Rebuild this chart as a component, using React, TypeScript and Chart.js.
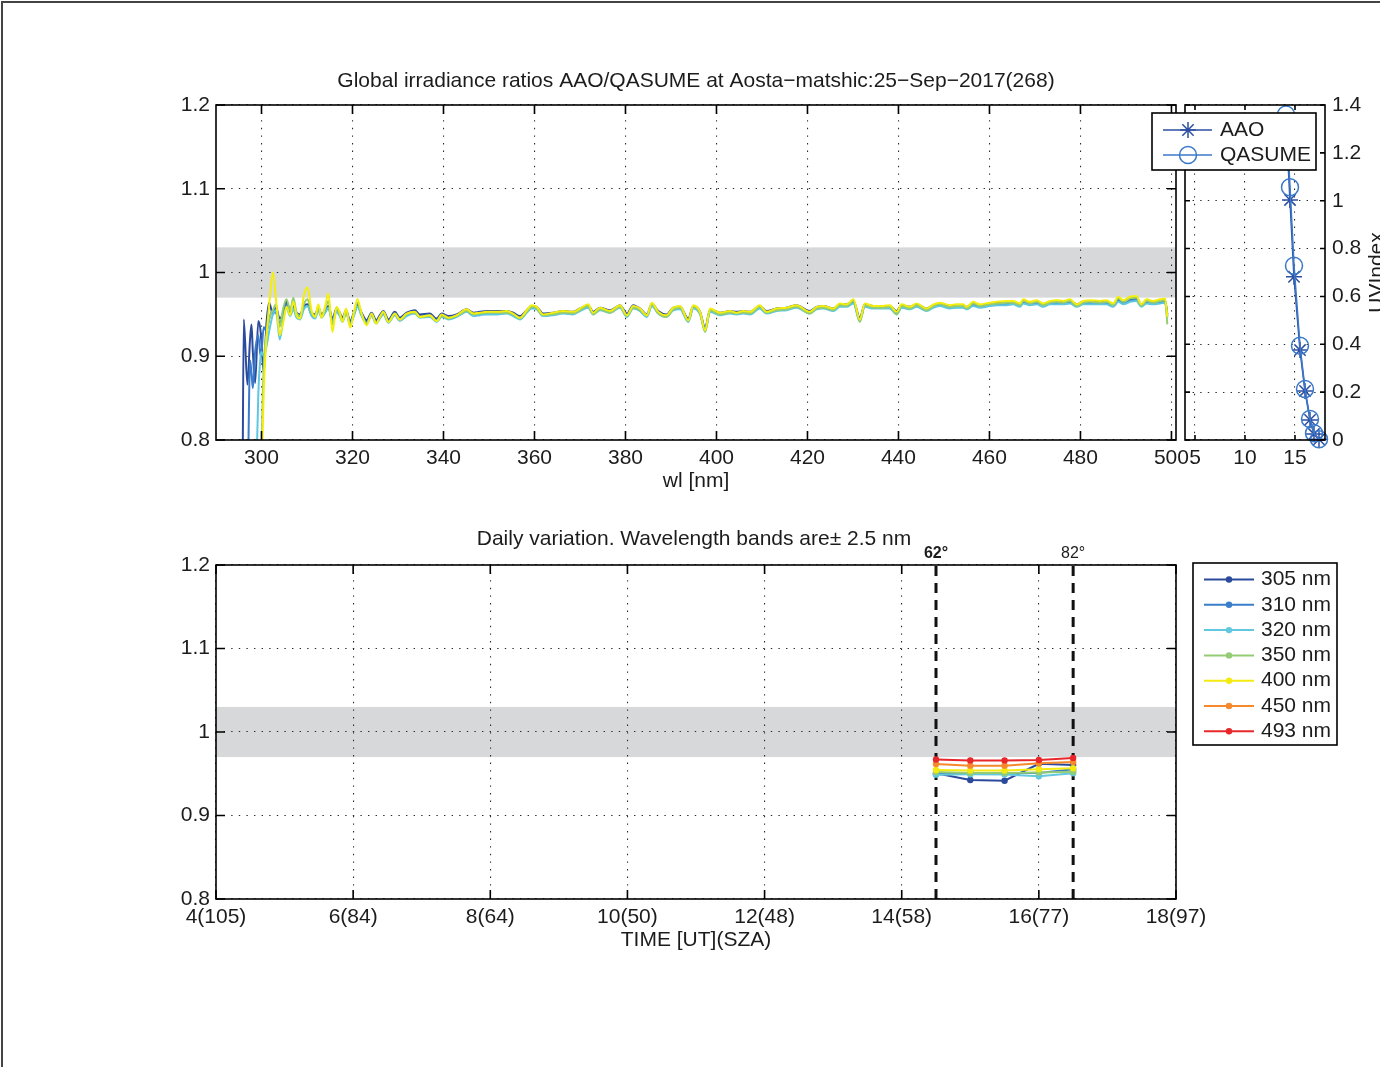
import React, { useEffect, useRef } from "react";
import { Chart, registerables } from "chart.js";

Chart.register(...registerables);

const FONT = '"Liberation Sans", Arial, Helvetica, sans-serif';
const INK = "#1c1c1c";
const W = 1380;
const H = 1067;
const FS = 21;

// ---------------- Top-left: spectral ratios ----------------
const wavelengths = [
  295.8, 296.1, 296.9, 297.5, 297.8, 298.1, 298.6, 299.3, 299.8, 300.0,
  300.5, 301.1, 301.7, 302.5, 303.2, 304.0, 304.8, 305.5, 306.3, 307.0,
  307.7, 308.5, 309.3, 310.1, 311.0, 311.8, 312.5, 313.2, 314.0, 314.7,
  315.6, 316.5, 317.2, 317.8, 318.6, 319.5, 320.3, 321.1, 322.0, 323.1,
  324.2, 325.2, 326.0, 326.8, 327.9, 329.3, 330.4, 331.9, 333.7, 334.8,
  337.0, 338.5, 339.6, 341.1, 342.9, 345.1, 346.6, 348.0, 349.5, 351.7,
  353.9, 355.3, 356.8, 358.3, 359.4, 360.5, 361.9, 364.1, 366.3, 368.5,
  370.0, 371.8, 372.9, 374.4, 376.6, 378.8, 380.3, 381.7, 383.2, 384.7,
  385.8, 387.2, 389.0, 390.5, 392.0, 393.8, 394.9, 396.4, 397.5, 398.6,
  400.8, 403.0, 404.4, 405.9, 407.4, 409.5, 411.0, 413.2, 415.4, 417.6,
  420.5, 422.0, 423.5, 425.7, 427.1, 428.6, 430.1, 431.5, 432.6, 434.5,
  436.7, 438.1, 439.6, 440.7, 442.5, 444.0, 446.2, 447.7, 449.1, 451.3,
  452.8, 454.2, 455.0, 456.4, 457.9, 460.1, 461.6, 463.8, 465.2, 466.7,
  467.4, 468.9, 470.4, 471.8, 473.3, 474.8, 476.2, 477.7, 479.2, 480.6,
  482.1, 484.3, 485.7, 487.2, 488.3, 489.4, 490.9, 492.3, 493.4, 494.5,
  496.0, 497.5, 498.6, 499.1,
];

const ratioDarkBlue = [
  0.70, 0.944, 0.866, 0.922, 0.938, 0.905, 0.868, 0.942, 0.930, 0.915,
  0.880, 0.940, 0.964, 0.950, 0.958, 0.945, 0.952, 0.965, 0.955, 0.962,
  0.952, 0.950, 0.960, 0.962, 0.952, 0.950, 0.958, 0.950, 0.955, 0.960,
  0.945, 0.957, 0.952, 0.946, 0.955, 0.942, 0.952, 0.962, 0.952, 0.943,
  0.952, 0.943, 0.949, 0.954, 0.944, 0.953, 0.946, 0.952, 0.955, 0.950,
  0.951, 0.945, 0.951, 0.948, 0.950, 0.956, 0.952, 0.953, 0.954, 0.954,
  0.954, 0.952, 0.948, 0.955, 0.960, 0.959, 0.951, 0.952, 0.954, 0.953,
  0.957, 0.961, 0.953, 0.958, 0.955, 0.961, 0.951, 0.961, 0.957, 0.950,
  0.963, 0.954, 0.950, 0.958, 0.959, 0.945, 0.960, 0.953, 0.934, 0.956,
  0.952, 0.954, 0.953, 0.954, 0.953, 0.960, 0.954, 0.957, 0.958, 0.961,
  0.954, 0.959, 0.960, 0.957, 0.962, 0.962, 0.966, 0.946, 0.962, 0.960,
  0.960, 0.960, 0.954, 0.961, 0.959, 0.962, 0.957, 0.961, 0.963, 0.960,
  0.961, 0.961, 0.959, 0.963, 0.961, 0.963, 0.964, 0.964, 0.965, 0.962,
  0.966, 0.964, 0.965, 0.962, 0.965, 0.965, 0.965, 0.966, 0.962, 0.965,
  0.965, 0.965, 0.965, 0.962, 0.968, 0.965, 0.968, 0.969, 0.962, 0.966,
  0.965, 0.966, 0.967, 0.950,
];

const ratioMidBlue = [
  null, null, 0.70, 0.895, 0.880, 0.862, 0.905, 0.925, 0.900, 0.905,
  0.935, 0.930, 0.945, 0.955, 0.952, 0.940, 0.950, 0.962, 0.952, 0.960,
  0.950, 0.948, 0.958, 0.960, 0.950, 0.948, 0.956, 0.948, 0.953, 0.958,
  0.943, 0.955, 0.950, 0.944, 0.953, 0.940, 0.950, 0.960, 0.950, 0.941,
  0.950, 0.941, 0.947, 0.952, 0.942, 0.951, 0.944, 0.950, 0.953, 0.948,
  0.949, 0.943, 0.949, 0.946, 0.948, 0.954, 0.950, 0.951, 0.952, 0.952,
  0.952, 0.950, 0.946, 0.953, 0.958, 0.957, 0.949, 0.950, 0.952, 0.951,
  0.955, 0.959, 0.951, 0.956, 0.953, 0.959, 0.949, 0.959, 0.955, 0.948,
  0.961, 0.952, 0.948, 0.956, 0.957, 0.943, 0.958, 0.951, 0.932, 0.954,
  0.950, 0.952, 0.951, 0.952, 0.951, 0.958, 0.952, 0.955, 0.956, 0.959,
  0.952, 0.957, 0.958, 0.955, 0.960, 0.960, 0.964, 0.944, 0.960, 0.958,
  0.958, 0.958, 0.952, 0.959, 0.957, 0.960, 0.955, 0.959, 0.961, 0.958,
  0.959, 0.959, 0.957, 0.961, 0.959, 0.961, 0.962, 0.962, 0.963, 0.960,
  0.964, 0.962, 0.963, 0.960, 0.963, 0.963, 0.963, 0.964, 0.960, 0.963,
  0.963, 0.963, 0.963, 0.960, 0.966, 0.963, 0.966, 0.967, 0.960, 0.964,
  0.963, 0.964, 0.965, 0.948,
];

const ratioCyan = [
  null, null, null, null, null, null, 0.70, 0.855, 0.900, 0.905,
  0.900, 0.912, 0.930, 0.950, 0.955, 0.920, 0.945, 0.958, 0.948, 0.956,
  0.946, 0.944, 0.956, 0.960, 0.948, 0.945, 0.955, 0.946, 0.952, 0.958,
  0.940, 0.953, 0.948, 0.941, 0.951, 0.938, 0.948, 0.959, 0.948, 0.939,
  0.948, 0.939, 0.945, 0.950, 0.940, 0.949, 0.942, 0.948, 0.951, 0.946,
  0.947, 0.941, 0.947, 0.944, 0.947, 0.953, 0.948, 0.949, 0.950, 0.950,
  0.951, 0.948, 0.944, 0.952, 0.957, 0.956, 0.948, 0.949, 0.951, 0.950,
  0.954, 0.958, 0.950, 0.955, 0.952, 0.958, 0.947, 0.957, 0.954, 0.947,
  0.960, 0.951, 0.947, 0.955, 0.956, 0.941, 0.957, 0.950, 0.930, 0.953,
  0.949, 0.951, 0.950, 0.951, 0.950, 0.957, 0.951, 0.954, 0.955, 0.958,
  0.951, 0.956, 0.957, 0.954, 0.959, 0.959, 0.963, 0.942, 0.959, 0.957,
  0.957, 0.957, 0.950, 0.958, 0.956, 0.959, 0.954, 0.958, 0.960, 0.957,
  0.958, 0.958, 0.956, 0.960, 0.958, 0.960, 0.961, 0.961, 0.962, 0.959,
  0.963, 0.961, 0.962, 0.959, 0.962, 0.962, 0.962, 0.963, 0.959, 0.962,
  0.962, 0.962, 0.962, 0.959, 0.965, 0.962, 0.965, 0.966, 0.959, 0.963,
  0.962, 0.963, 0.964, 0.946,
];

const ratioGreen = [
  null, null, null, null, null, null, null, null, 0.70, 0.78,
  0.890, 0.925, 0.945, 0.955, 0.962, 0.935, 0.958, 0.968, 0.955, 0.970,
  0.952, 0.948, 0.962, 0.968, 0.952, 0.948, 0.960, 0.947, 0.957, 0.966,
  0.938, 0.957, 0.951, 0.942, 0.955, 0.937, 0.951, 0.964, 0.950, 0.939,
  0.950, 0.940, 0.946, 0.952, 0.941, 0.950, 0.943, 0.950, 0.952, 0.947,
  0.948, 0.942, 0.948, 0.945, 0.948, 0.954, 0.950, 0.951, 0.952, 0.952,
  0.952, 0.950, 0.945, 0.953, 0.959, 0.957, 0.949, 0.950, 0.952, 0.951,
  0.955, 0.960, 0.950, 0.956, 0.952, 0.959, 0.948, 0.958, 0.955, 0.948,
  0.962, 0.951, 0.947, 0.956, 0.958, 0.942, 0.959, 0.951, 0.929, 0.955,
  0.950, 0.952, 0.951, 0.952, 0.951, 0.959, 0.952, 0.955, 0.956, 0.959,
  0.951, 0.957, 0.958, 0.955, 0.961, 0.960, 0.966, 0.941, 0.961, 0.958,
  0.958, 0.959, 0.950, 0.960, 0.957, 0.961, 0.955, 0.960, 0.962, 0.959,
  0.960, 0.960, 0.957, 0.963, 0.960, 0.962, 0.963, 0.964, 0.964, 0.961,
  0.966, 0.963, 0.965, 0.961, 0.964, 0.965, 0.964, 0.966, 0.960, 0.964,
  0.965, 0.964, 0.965, 0.961, 0.969, 0.965, 0.969, 0.970, 0.960, 0.966,
  0.964, 0.966, 0.967, 0.938,
];

const ratioYellow = [
  null, null, null, null, null, null, null, null, null, 0.75,
  0.860, 0.923, 0.962, 1.000, 0.967, 0.925, 0.941, 0.959, 0.949, 0.965,
  0.949, 0.945, 0.972, 0.982, 0.955, 0.947, 0.962, 0.946, 0.960, 0.975,
  0.929, 0.959, 0.952, 0.941, 0.957, 0.934, 0.952, 0.968, 0.951, 0.937,
  0.951, 0.939, 0.947, 0.953, 0.941, 0.951, 0.944, 0.951, 0.953, 0.947,
  0.949, 0.942, 0.950, 0.946, 0.949, 0.956, 0.951, 0.952, 0.953, 0.953,
  0.954, 0.951, 0.946, 0.955, 0.961, 0.959, 0.950, 0.952, 0.954, 0.953,
  0.957, 0.962, 0.952, 0.958, 0.954, 0.961, 0.949, 0.960, 0.957, 0.949,
  0.964, 0.953, 0.949, 0.958, 0.960, 0.943, 0.961, 0.953, 0.931, 0.957,
  0.952, 0.954, 0.952, 0.954, 0.953, 0.961, 0.953, 0.957, 0.958, 0.961,
  0.953, 0.959, 0.960, 0.957, 0.963, 0.962, 0.968, 0.944, 0.963, 0.960,
  0.960, 0.961, 0.953, 0.962, 0.959, 0.963, 0.957, 0.962, 0.964, 0.961,
  0.962, 0.962, 0.959, 0.965, 0.962, 0.964, 0.965, 0.966, 0.966, 0.963,
  0.968, 0.965, 0.967, 0.963, 0.966, 0.967, 0.966, 0.968, 0.962, 0.966,
  0.967, 0.966, 0.967, 0.963, 0.971, 0.967, 0.971, 0.972, 0.962, 0.968,
  0.966, 0.968, 0.969, 0.947,
];

const ratioColors = ["#2c4b9c", "#3a7bcb", "#5ec7e1", "#95cd71", "#f4ee0c"];
const wlTicks = [300, 320, 340, 360, 380, 400, 420, 440, 460, 480, 500];
const ratioTicks = [0.8, 0.9, 1.0, 1.1, 1.2];
const refBand = [0.97, 1.03];
const topTitle = "Global irradiance ratios AAO/QASUME at Aosta\u2212matshic:25\u2212Sep\u22122017(268)";
const topXLabel = "wl [nm]";

// ---------------- Top-right: UV index ----------------
const uvTimes = [14.1, 14.5, 14.9, 15.5, 16.0, 16.5, 16.9, 17.4];
const uvAAO = [1.33, 1.003, 0.682, 0.376, 0.205, 0.084, 0.025, 0.003];
const uvQASUME = [1.36, 1.056, 0.728, 0.394, 0.213, 0.088, 0.028, 0.003];
const uvTimeTicks = [5, 10, 15];
const uvTicks = [0, 0.2, 0.4, 0.6, 0.8, 1.0, 1.2, 1.4];
const uvNames = ["AAO", "QASUME"];
const uvColors = ["#2d4fa2", "#3a78c8"];
const uvYLabel = "UVIndex";

// ---------------- Bottom: daily variation ----------------
const dailyTimes = [14.5, 15.0, 15.5, 16.0, 16.5];
const band305 = [0.9505, 0.9425, 0.9417, 0.962, 0.9605];
const band310 = [0.9495, 0.951, 0.951, 0.951, 0.9555];
const band320 = [0.9489, 0.9493, 0.949, 0.947, 0.9505];
const band350 = [0.952, 0.951, 0.951, 0.9515, 0.9525];
const band400 = [0.9545, 0.954, 0.954, 0.9555, 0.9565];
const band450 = [0.9617, 0.9597, 0.9597, 0.9625, 0.964];
const band493 = [0.967, 0.966, 0.966, 0.9665, 0.969];
const bandLabels = ["305 nm", "310 nm", "320 nm", "350 nm", "400 nm", "450 nm", "493 nm"];
const bandColors = ["#2c4a9c", "#3a7dca", "#62c8e0", "#94cc74", "#f3ea12", "#f5892c", "#e8272b"];
const dailyTimeTicks = [4, 6, 8, 10, 12, 14, 16, 18];
const dailyTimeLabels = ["4(105)", "6(84)", "8(64)", "10(50)", "12(48)", "14(58)", "16(77)", "18(97)"];
const szaMarkTimes = [14.5, 16.5];
const szaMarkLabels = ["62\u00b0", "82\u00b0"];
const bottomTitle = "Daily variation. Wavelength bands are\u00b1 2.5 nm";
const bottomXLabel = "TIME [UT](SZA)";

// ---------------- helpers ----------------
const toPoints = (xs: number[], ys: (number | null)[]) =>
  xs.map((x, i) => ({ x, y: ys[i] })).filter((p) => p.y !== null && p.y !== undefined);

const fmtNum = (v: number) => String(Math.round(v * 10) / 10);

function axis(opts: {
  min: number;
  max: number;
  ticks: number[];
  position: string;
  size: number;
  pad: number;
  fmt: (v: number, i: number) => string;
}) {
  return {
    type: "linear",
    position: opts.position,
    min: opts.min,
    max: opts.max,
    afterBuildTicks: (s: any) => {
      s.ticks = opts.ticks.map((v) => ({ value: v }));
    },
    afterFit: (s: any) => {
      if (opts.position === "bottom") s.height = opts.size;
      else s.width = opts.size;
    },
    ticks: {
      autoSkip: false,
      maxRotation: 0,
      minRotation: 0,
      padding: opts.pad,
      color: INK,
      font: { family: FONT, size: FS },
      callback: (v: any, i: number) => opts.fmt(Number(v), i),
    },
    grid: { color: "#2a2a2a", lineWidth: 1.1, drawTicks: false },
    border: { display: false, dash: [1.4, 6.2] },
  };
}

function framePlugin(o: {
  band?: number[];
  tickLen: number;
  xTicks: number[];
  yTicks: number[];
  draw?: (chart: any, ctx: CanvasRenderingContext2D) => void;
}) {
  return {
    id: "matlabFrame",
    beforeDraw(chart: any) {
      if (!o.band) return;
      const { ctx, chartArea: a, scales } = chart;
      const yTop = scales.y.getPixelForValue(o.band[1]);
      const yBot = scales.y.getPixelForValue(o.band[0]);
      ctx.save();
      ctx.fillStyle = "#d7d8da";
      ctx.fillRect(a.left, yTop, a.right - a.left, yBot - yTop);
      ctx.restore();
    },
    afterDatasetsDraw(chart: any) {
      const { ctx, chartArea: a, scales } = chart;
      const L = o.tickLen;
      ctx.save();
      ctx.strokeStyle = "#000";
      ctx.lineWidth = 1.6;
      ctx.setLineDash([]);
      ctx.beginPath();
      for (const v of o.xTicks) {
        const x = scales.x.getPixelForValue(v);
        ctx.moveTo(x, a.bottom);
        ctx.lineTo(x, a.bottom - L);
        ctx.moveTo(x, a.top);
        ctx.lineTo(x, a.top + L);
      }
      for (const v of o.yTicks) {
        const y = scales.y.getPixelForValue(v);
        ctx.moveTo(a.left, y);
        ctx.lineTo(a.left + L, y);
        ctx.moveTo(a.right, y);
        ctx.lineTo(a.right - L, y);
      }
      ctx.stroke();
      ctx.strokeRect(a.left, a.top, a.right - a.left, a.bottom - a.top);
      ctx.restore();
    },
    afterDraw(chart: any) {
      if (o.draw) {
        chart.ctx.save();
        o.draw(chart, chart.ctx);
        chart.ctx.restore();
      }
    },
  };
}

function text(ctx: CanvasRenderingContext2D, s: string, x: number, y: number, size: number, align: CanvasTextAlign = "center", weight = "normal") {
  ctx.font = `${weight} ${size}px ${FONT}`;
  ctx.fillStyle = INK;
  ctx.textAlign = align;
  ctx.textBaseline = "middle";
  ctx.fillText(s, x, y);
}

const baseOptions = {
  responsive: false,
  animation: false,
  devicePixelRatio: 1,
  events: [],
  plugins: { legend: { display: false }, tooltip: { enabled: false }, title: { display: false } },
};

// ---------------- chart builders ----------------
function buildSpectral(canvas: HTMLCanvasElement) {
  const series = [
    { d: ratioYellow, c: ratioColors[4], order: 0 },
    { d: ratioGreen, c: ratioColors[3], order: 1 },
    { d: ratioCyan, c: ratioColors[2], order: 2 },
    { d: ratioMidBlue, c: ratioColors[1], order: 3 },
    { d: ratioDarkBlue, c: ratioColors[0], order: 4 },
  ];
  return new Chart(canvas, {
    type: "line",
    data: {
      datasets: series.map((s) => ({
        data: toPoints(wavelengths, s.d),
        borderColor: s.c,
        borderWidth: 2,
        pointRadius: 0,
        cubicInterpolationMode: "monotone",
        fill: false,
        order: s.order,
        clip: 0,
      })),
    },
    options: {
      ...baseOptions,
      layout: { padding: { left: 156, top: 105, right: 204, bottom: 577 } },
      scales: {
        x: axis({ min: 290, max: 501, ticks: wlTicks, position: "bottom", size: 50, pad: 6, fmt: (v) => String(v) }),
        y: axis({ min: 0.8, max: 1.2, ticks: ratioTicks, position: "left", size: 60, pad: 6, fmt: fmtNum }),
      },
    } as any,
    plugins: [
      framePlugin({
        band: refBand,
        tickLen: 9,
        xTicks: wlTicks,
        yTicks: ratioTicks,
        draw: (chart, ctx) => {
          const a = chart.chartArea;
          const cx = (a.left + a.right) / 2;
          text(ctx, topTitle, cx, a.top - 24, FS);
          text(ctx, topXLabel, cx, a.bottom + 41, FS);
        },
      }),
    ],
  } as any);
}

function buildUV(canvas: HTMLCanvasElement) {
  return new Chart(canvas, {
    type: "line",
    data: {
      datasets: [
        {
          data: toPoints(uvTimes, uvQASUME),
          borderColor: uvColors[1],
          pointBorderColor: uvColors[1],
          pointBackgroundColor: "rgba(0,0,0,0)",
          pointStyle: "circle",
          pointRadius: 8.5,
          pointBorderWidth: 1.5,
          borderWidth: 1.6,
          tension: 0,
          order: 0,
          clip: false,
        },
        {
          data: toPoints(uvTimes, uvAAO),
          borderColor: uvColors[0],
          pointBorderColor: uvColors[0],
          pointBackgroundColor: "rgba(0,0,0,0)",
          pointStyle: "star",
          pointRadius: 8,
          pointBorderWidth: 1.5,
          borderWidth: 1.6,
          tension: 0,
          order: 1,
          clip: false,
        },
      ],
    },
    options: {
      ...baseOptions,
      layout: { padding: { left: 1185, top: 105, right: 10, bottom: 577 } },
      scales: {
        x: axis({ min: 4, max: 18, ticks: uvTimeTicks, position: "bottom", size: 50, pad: 6, fmt: (v) => String(v) }),
        y: axis({ min: 0, max: 1.4, ticks: uvTicks, position: "right", size: 45, pad: 7, fmt: fmtNum }),
      },
    } as any,
    plugins: [
      framePlugin({
        tickLen: 5,
        xTicks: uvTimeTicks,
        yTicks: uvTicks,
        draw: (chart, ctx) => {
          const a = chart.chartArea;
          ctx.save();
          ctx.translate(1377, (a.top + a.bottom) / 2);
          ctx.rotate(-Math.PI / 2);
          text(ctx, uvYLabel, 0, 0, FS);
          ctx.restore();
          const bx = 1152, by = 113, bw = 164, bh = 57;
          ctx.fillStyle = "#fff";
          ctx.fillRect(bx, by, bw, bh);
          ctx.strokeStyle = "#000";
          ctx.lineWidth = 1.6;
          ctx.strokeRect(bx, by, bw, bh);
          const rows = [130, 155];
          rows.forEach((ry, i) => {
            ctx.strokeStyle = uvColors[i];
            ctx.lineWidth = 1.6;
            ctx.beginPath();
            ctx.moveTo(1163, ry);
            ctx.lineTo(1212, ry);
            ctx.stroke();
            const mx = 1188;
            ctx.lineWidth = 1.5;
            ctx.beginPath();
            if (i === 0) {
              const r = 8;
              const d = r * Math.SQRT1_2;
              ctx.moveTo(mx, ry - r); ctx.lineTo(mx, ry + r);
              ctx.moveTo(mx - r, ry); ctx.lineTo(mx + r, ry);
              ctx.moveTo(mx - d, ry - d); ctx.lineTo(mx + d, ry + d);
              ctx.moveTo(mx - d, ry + d); ctx.lineTo(mx + d, ry - d);
            } else {
              ctx.arc(mx, ry, 8.5, 0, Math.PI * 2);
            }
            ctx.stroke();
            text(ctx, uvNames[i], 1220, ry, FS, "left");
          });
        },
      }),
    ],
  } as any);
}

function buildDaily(canvas: HTMLCanvasElement) {
  const bands = [band305, band310, band320, band350, band400, band450, band493];
  const lineSets = bands.map((b, i) => ({
    data: toPoints(dailyTimes, b),
    borderColor: bandColors[i],
    backgroundColor: bandColors[i],
    pointBackgroundColor: bandColors[i],
    pointBorderColor: bandColors[i],
    pointRadius: 3.2,
    pointBorderWidth: 0,
    borderWidth: 2,
    tension: 0,
    order: bands.length - i,
    clip: false,
  }));
  const markSets = szaMarkTimes.map((t) => ({
    data: [
      { x: t, y: 0.8 },
      { x: t, y: 1.2 },
    ],
    borderColor: "#111",
    borderWidth: 3,
    borderDash: [10, 7],
    pointRadius: 0,
    tension: 0,
    order: 20,
    clip: 0,
  }));
  return new Chart(canvas, {
    type: "line",
    data: { datasets: [...lineSets, ...markSets] },
    options: {
      ...baseOptions,
      layout: { padding: { left: 156, top: 565, right: 204, bottom: 118 } },
      scales: {
        x: axis({
          min: 4,
          max: 18,
          ticks: dailyTimeTicks,
          position: "bottom",
          size: 50,
          pad: 6,
          fmt: (_v, i) => dailyTimeLabels[i],
        }),
        y: axis({ min: 0.8, max: 1.2, ticks: ratioTicks, position: "left", size: 60, pad: 6, fmt: fmtNum }),
      },
    } as any,
    plugins: [
      framePlugin({
        band: refBand,
        tickLen: 9,
        xTicks: dailyTimeTicks,
        yTicks: ratioTicks,
        draw: (chart, ctx) => {
          const a = chart.chartArea;
          const cx = (a.left + a.right) / 2;
          text(ctx, bottomTitle, cx - 2, a.top - 26, FS);
          text(ctx, bottomXLabel, cx, a.bottom + 41, FS);
          szaMarkTimes.forEach((t, i) => {
            const x = chart.scales.x.getPixelForValue(t);
            text(ctx, szaMarkLabels[i], x, a.top - 11, 16, "center", i === 0 ? "bold" : "normal");
          });
          const bx = 1193, by = 563, bw = 144, bh = 182;
          ctx.fillStyle = "#fff";
          ctx.fillRect(bx, by, bw, bh);
          ctx.strokeStyle = "#000";
          ctx.lineWidth = 1.6;
          ctx.strokeRect(bx, by, bw, bh);
          bandLabels.forEach((lab, i) => {
            const ry = 579.5 + i * 25.3;
            ctx.strokeStyle = bandColors[i];
            ctx.lineWidth = 2;
            ctx.beginPath();
            ctx.moveTo(1204, ry);
            ctx.lineTo(1254, ry);
            ctx.stroke();
            ctx.fillStyle = bandColors[i];
            ctx.beginPath();
            ctx.arc(1229, ry, 3.2, 0, Math.PI * 2);
            ctx.fill();
            text(ctx, lab, 1261, ry, FS, "left");
          });
        },
      }),
    ],
  } as any);
}

function ChartCanvas({ build }: { build: (c: HTMLCanvasElement) => Chart }) {
  const ref = useRef<HTMLCanvasElement | null>(null);
  useEffect(() => {
    if (!ref.current) return;
    const chart = build(ref.current);
    return () => chart.destroy();
  }, [build]);
  return (
    <canvas
      ref={ref}
      width={W}
      height={H}
      style={{ position: "absolute", left: 0, top: 0, width: W, height: H }}
    />
  );
}

export default function App() {
  return (
    <div
      style={{
        position: "fixed",
        left: 0,
        top: 0,
        width: W,
        height: H,
        overflow: "hidden",
        background: "#fff",
        fontFamily: FONT,
      }}
    >
      <div
        style={{
          position: "absolute",
          left: 1,
          top: 1,
          width: W + 10,
          height: H + 10,
          borderLeft: "2px solid #444",
          borderTop: "2px solid #444",
        }}
      />
      <ChartCanvas build={buildSpectral} />
      <ChartCanvas build={buildDaily} />
      <ChartCanvas build={buildUV} />
    </div>
  );
}
